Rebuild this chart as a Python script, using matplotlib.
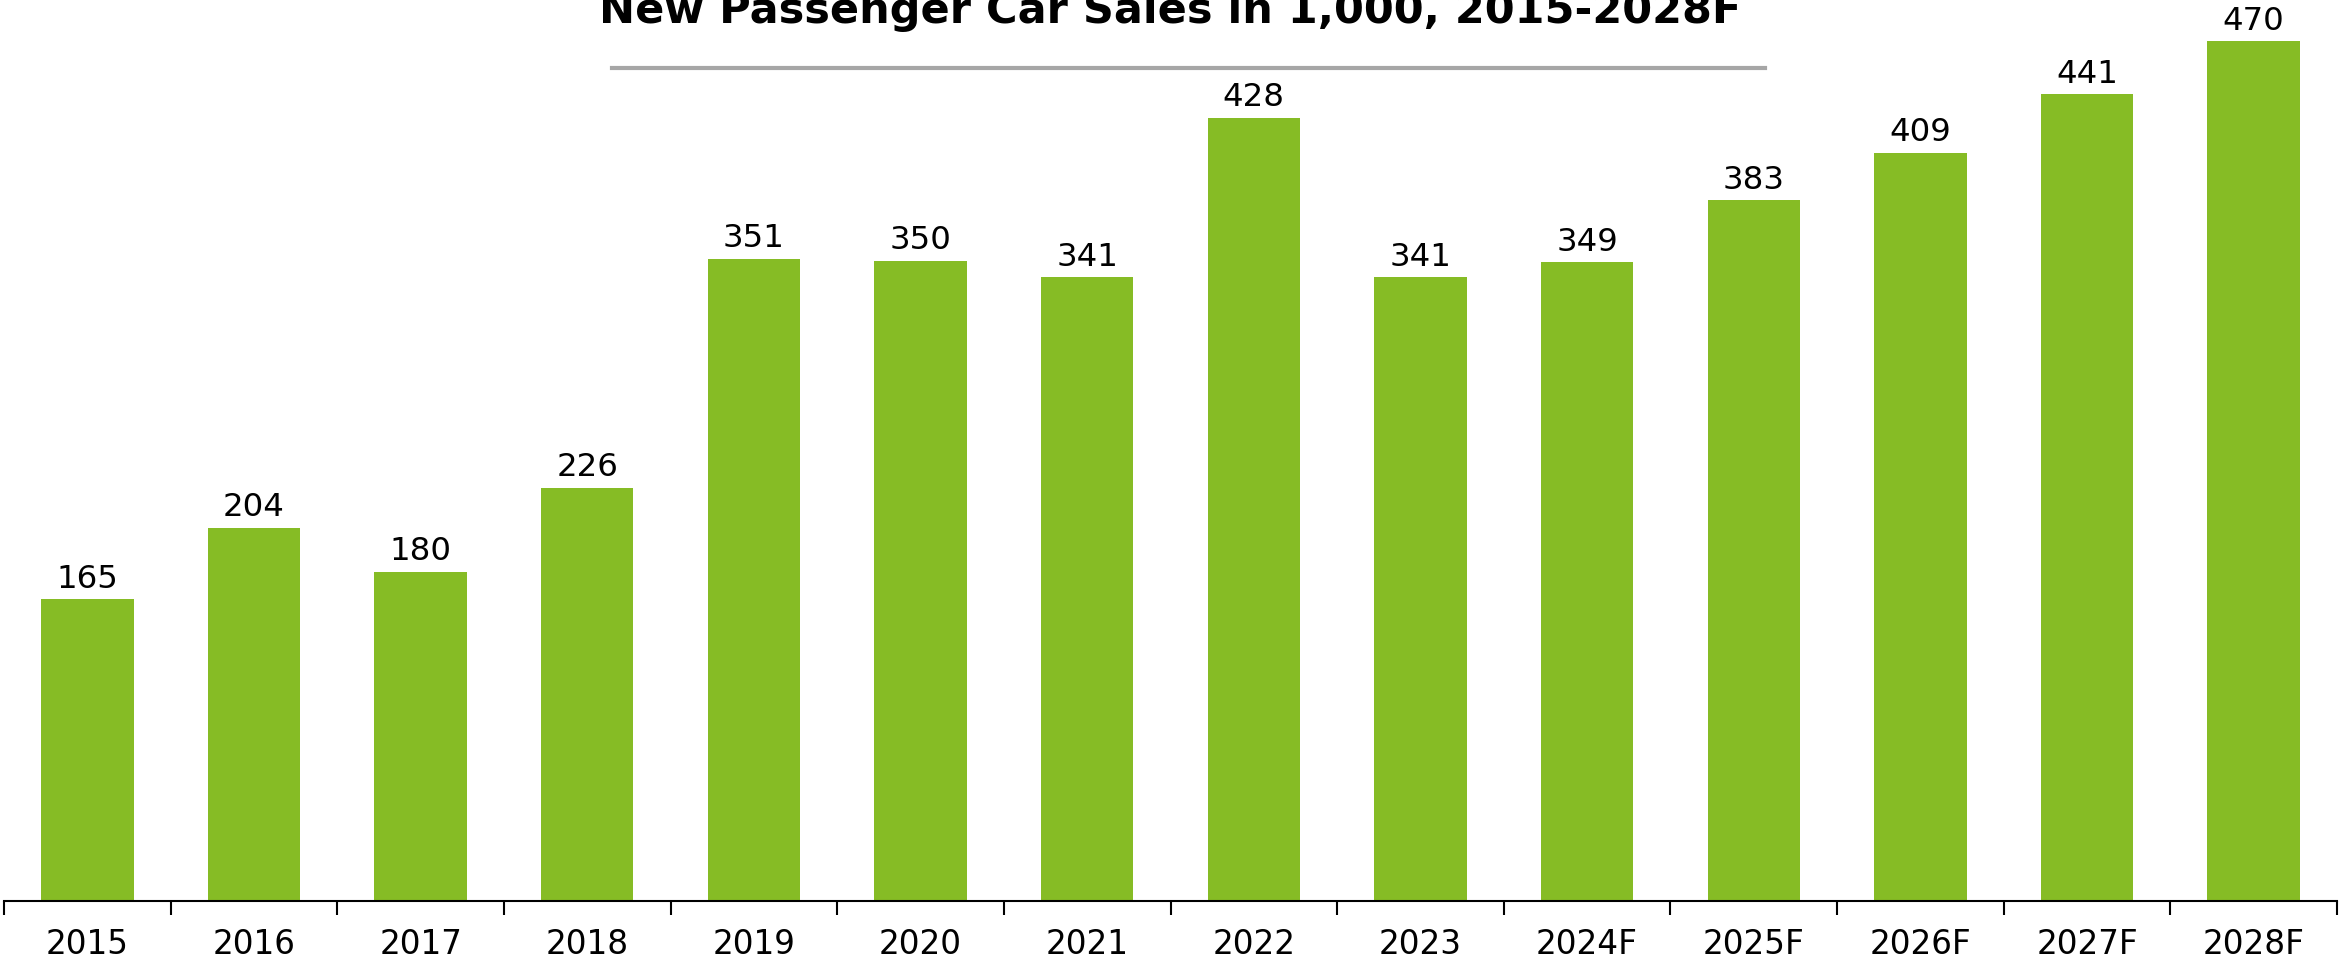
import matplotlib
matplotlib.use("Agg")
import matplotlib.pyplot as plt
from matplotlib.lines import Line2D
import numpy as np

categories = ["2015", "2016", "2017", "2018", "2019", "2020", "2021", "2022",
              "2023", "2024F", "2025F", "2026F", "2027F", "2028F"]
values = [165, 204, 180, 226, 351, 350, 341, 428, 341, 349, 383, 409, 441, 470]
title = "New Passenger Car Sales in 1,000, 2015-2028F"

W, H = 2341, 962
fig = plt.figure(figsize=(W / 100, H / 100), dpi=100)
ax = fig.add_axes([4 / W, 60 / H, (2337 - 4) / W, (902 - 0) / H])

x = np.arange(len(categories))
ax.bar(x, values, width=0.555, color="#86bc25", zorder=2)
for xi, v in zip(x, values):
    ax.annotate(str(v), (xi, v), xytext=(0, 4), textcoords="offset points",
                ha="center", va="bottom", fontsize=23.3, color="#000000")

ax.set_xlim(-0.5, len(categories) - 0.5)
ax.set_ylim(0, 493)
ax.set_yticks([])
ax.set_xticks(x)
ax.set_xticklabels(categories, fontsize=23.5)
ax.tick_params(axis="x", which="major", length=0, pad=19)
ax.set_xticks(np.arange(-0.5, len(categories), 1.0), minor=True)
ax.tick_params(axis="x", which="minor", length=10, width=1.5, color="#000000")
for s in ["top", "right", "left"]:
    ax.spines[s].set_visible(False)
ax.spines["bottom"].set_linewidth(1.5)

fig.text(0.5, 1 - 23 / H, title, ha="center", va="baseline",
         fontsize=31, fontweight="bold", color="#000000")
fig.add_artist(Line2D([612 / W, 1765 / W], [1 - 69 / H, 1 - 69 / H],
                      transform=fig.transFigure, color="#a6a6a6", linewidth=3))

fig.savefig("out.png", dpi=100)
